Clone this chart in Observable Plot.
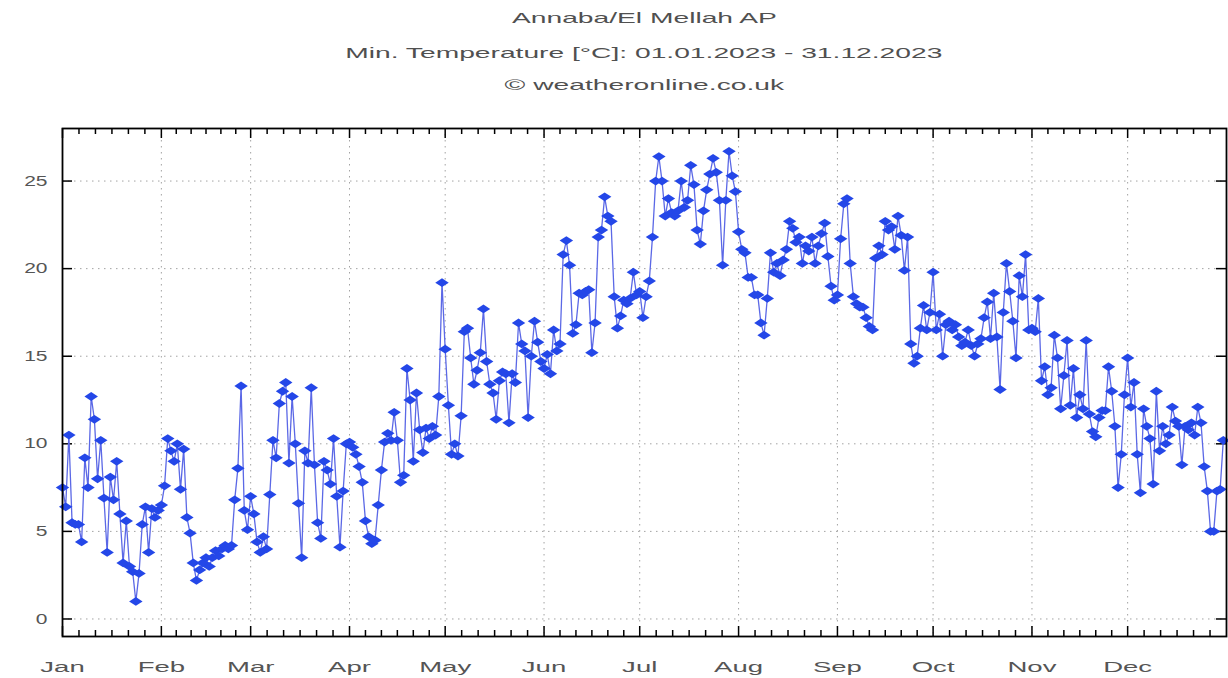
<!DOCTYPE html>
<html>
<head>
<meta charset="utf-8">
<script src="https://cdn.jsdelivr.net/npm/d3@7"></script>
<script src="https://cdn.jsdelivr.net/npm/@observablehq/plot@0.6"></script>
<style>
  html, body { margin: 0; padding: 0; background: #fff; overflow: hidden; }
  #wrap { position: relative; width: 1228px; height: 678px; }
  .t { position: absolute; left: 62px; width: 1164px; text-align: center;
       font-family: "Liberation Sans", Arial, sans-serif; font-size: 15px; color: #505050;
       line-height: 20px; }
  .t span { display: inline-block; transform: scaleX(1.88); transform-origin: center; }
  #chart { position: absolute; left: 0; top: 100px; }
</style>
</head>
<body>
<div id="wrap">
  <div class="t" style="top:8px"><span>Annaba/El Mellah AP</span></div>
  <div class="t" style="top:43px"><span>Min. Temperature [°C]: 01.01.2023 - 31.12.2023</span></div>
  <div class="t" style="top:75px"><span>© weatheronline.co.uk</span></div>
  <div id="chart"></div>
</div>
<script>
// Daily minimum temperatures (°C), 2023, one array per month
const jan = [7.5, 6.4, 10.5, 5.5, 5.4, 5.4, 4.4, 9.2, 7.5, 12.7, 11.4, 8.0, 10.2, 6.9, 3.8, 8.1, 6.8, 9.0, 6.0, 3.2, 5.6, 3.0, 2.7, 1.0, 2.6, 5.4, 6.4, 3.8, 6.3, 5.8, 6.2];
const feb = [6.5, 7.6, 10.3, 9.6, 9.0, 10.0, 7.4, 9.7, 5.8, 4.9, 3.2, 2.2, 2.8, 3.2, 3.5, 3.0, 3.5, 3.9, 3.6, 4.0, 4.2, 4.0, 4.2, 6.8, 8.6, 13.3, 6.2, 5.1];
const mar = [7.0, 6.0, 4.4, 3.8, 4.7, 4.0, 7.1, 10.2, 9.2, 12.3, 13.0, 13.5, 8.9, 12.7, 10.0, 6.6, 3.5, 9.6, 8.9, 13.2, 8.8, 5.5, 4.6, 9.0, 8.5, 7.7, 10.3, 7.0, 4.1, 7.3, 10.0];
const apr = [10.1, 9.8, 9.4, 8.7, 7.8, 5.6, 4.7, 4.3, 4.5, 6.5, 8.5, 10.1, 10.6, 10.2, 11.8, 10.2, 7.8, 8.2, 14.3, 12.5, 9.0, 12.9, 10.8, 9.5, 10.9, 10.3, 11.0, 10.5, 12.7, 19.2];
const may = [15.4, 12.2, 9.4, 10.0, 9.3, 11.6, 16.4, 16.6, 14.9, 13.4, 14.2, 15.2, 17.7, 14.7, 13.4, 12.9, 11.4, 13.6, 14.1, 14.0, 11.2, 14.0, 13.5, 16.9, 15.7, 15.3, 11.5, 15.0, 17.0, 15.8, 14.7];
const jun = [14.3, 15.1, 14.0, 16.5, 15.3, 15.7, 20.8, 21.6, 20.2, 16.3, 16.8, 18.6, 18.5, 18.7, 18.8, 15.2, 16.9, 21.8, 22.2, 24.1, 23.0, 22.7, 18.4, 16.6, 17.3, 18.2, 18.0, 18.3, 19.8, 18.5];
const jul = [18.7, 17.2, 18.4, 19.3, 21.8, 25.0, 26.4, 25.0, 23.0, 24.0, 23.2, 23.0, 23.3, 25.0, 23.5, 23.9, 25.9, 24.8, 22.2, 21.4, 23.3, 24.5, 25.4, 26.3, 25.5, 23.9, 20.2, 23.9, 26.7, 25.3, 24.4];
const aug = [22.1, 21.1, 20.9, 19.5, 19.5, 18.5, 18.5, 16.9, 16.2, 18.3, 20.9, 19.8, 20.3, 19.6, 20.5, 21.1, 22.7, 22.3, 21.5, 21.8, 20.3, 21.3, 21.0, 21.8, 20.3, 21.3, 22.0, 22.6, 20.7, 19.0, 18.2];
const sep = [18.5, 21.7, 23.7, 24.0, 20.3, 18.4, 18.0, 17.8, 17.8, 17.2, 16.7, 16.5, 20.6, 21.3, 20.8, 22.7, 22.2, 22.4, 21.1, 23.0, 21.9, 19.9, 21.8, 15.7, 14.6, 15.0, 16.6, 17.9, 16.5, 17.5];
const oct = [19.8, 16.5, 17.4, 15.0, 16.8, 17.0, 16.5, 16.8, 16.1, 15.6, 15.8, 16.5, 15.6, 15.0, 15.7, 16.0, 17.2, 18.1, 16.0, 18.6, 16.1, 13.1, 17.5, 20.3, 18.7, 17.0, 14.9, 19.6, 18.4, 20.8, 16.5];
const nov = [16.6, 16.4, 18.3, 13.6, 14.4, 12.8, 13.2, 16.2, 14.9, 12.0, 13.9, 15.9, 12.2, 14.3, 11.5, 12.8, 12.0, 15.9, 11.7, 10.7, 10.4, 11.5, 11.9, 11.9, 14.4, 13.0, 11.0, 7.5, 9.4, 12.8];
const dec = [14.9, 12.1, 13.5, 9.4, 7.2, 12.0, 11.0, 10.3, 7.7, 13.0, 9.6, 11.0, 10.0, 10.5, 12.1, 11.3, 11.0, 8.8, 11.0, 10.8, 11.2, 10.5, 12.1, 11.2, 8.7, 7.3, 5.0, 5.0, 7.3, 7.4, 10.2];

const monthLabels = ["Jan", "Feb", "Mar", "Apr", "May", "Jun", "Jul", "Aug", "Sep", "Oct", "Nov", "Dec"];
const yTicks = [0, 5, 10, 15, 20, 25];
const year = 2023;

const months = [jan, feb, mar, apr, may, jun, jul, aug, sep, oct, nov, dec];
const data = months.flatMap((vals, m) =>
  vals.map((v, i) => ({ date: new Date(Date.UTC(year, m, i + 1)), temp: v })));

const monthStarts = monthLabels.map((_, m) => new Date(Date.UTC(year, m, 1)));
const minorTicks = [];
for (let m = 0; m < 12; m++) {
  const a = Date.UTC(year, m, 1), b = Date.UTC(year, m + 1, 1);
  for (let k = 1; k < 6; k++) minorTicks.push(new Date(a + (b - a) * k / 6));
}

const W = 1228, H = 578;
const mL = 62, mR = 2, mT = 28, mB = 42;
const plotW = W - mL - mR, plotH = H - mT - mB;

const flatDiamond = {
  draw(ctx, size) {
    const s = Math.sqrt(size);
    const w = s * 0.95, h = s * 0.62;
    ctx.moveTo(-w, 0); ctx.lineTo(0, -h); ctx.lineTo(w, 0); ctx.lineTo(0, h); ctx.closePath();
  }
};

const chart = Plot.plot({
  width: W, height: H,
  marginLeft: mL, marginRight: mR, marginTop: mT, marginBottom: mB,
  style: { fontFamily: "Liberation Sans, Arial, sans-serif", fontSize: "14.5px", color: "#555", background: "white" },
  x: { type: "utc", domain: [new Date(Date.UTC(year, 0, 1)), new Date(Date.UTC(year + 1, 0, 1))] },
  y: { domain: [-1, 28] },
  marks: [
    Plot.gridY(yTicks, { stroke: "#999", strokeOpacity: 0.9, strokeDasharray: "1.5,4.5" }),
    Plot.gridX(monthStarts, { stroke: "#999", strokeOpacity: 0.9, strokeDasharray: "1.5,4.5" }),
    Plot.axisY(yTicks, { tickSize: 0, tickPadding: 15, label: null, fontSize: 14.5 }),
    Plot.axisX(monthStarts, { tickSize: 0, tickPadding: 25, label: null, fontSize: 14.5,
      tickFormat: (d) => monthLabels[d.getUTCMonth()] }),
    // inward ticks, bottom and top
    Plot.tickX(monthStarts, { x: d => d, insetTop: plotH - 10, stroke: "black", strokeWidth: 1.5 }),
    Plot.tickX(minorTicks, { x: d => d, insetTop: plotH - 6, stroke: "black", strokeWidth: 1.5 }),
    Plot.tickX(monthStarts, { x: d => d, insetBottom: plotH - 10, stroke: "black", strokeWidth: 1.5 }),
    Plot.tickX(minorTicks, { x: d => d, insetBottom: plotH - 6, stroke: "black", strokeWidth: 1.5 }),
    // inward ticks, left and right
    Plot.tickY(yTicks, { y: d => d, insetRight: plotW - 10, stroke: "black", strokeWidth: 1.5 }),
    Plot.tickY(yTicks, { y: d => d, insetLeft: plotW - 10, stroke: "black", strokeWidth: 1.5 }),
    Plot.line(data, { x: "date", y: "temp", stroke: "#5b68e6", strokeWidth: 1.3 }),
    Plot.dot(data, { x: "date", y: "temp", symbol: flatDiamond, r: 4.0, fill: "#2447e8", stroke: "none" }),
    Plot.frame({ stroke: "black", strokeWidth: 1.8 })
  ]
});

// widen axis labels like the reference's stretched lettering
function stretch(selector, s) {
  chart.querySelectorAll(selector).forEach(t => {
    const tr = t.getAttribute("transform") || "";
    t.setAttribute("transform", tr + ` scale(${s},1)`);
  });
}
stretch('g[aria-label="x-axis tick label"] text', 1.9);
stretch('g[aria-label="y-axis tick label"] text', 1.45);

document.getElementById("chart").appendChild(chart);
</script>
</body>
</html>
